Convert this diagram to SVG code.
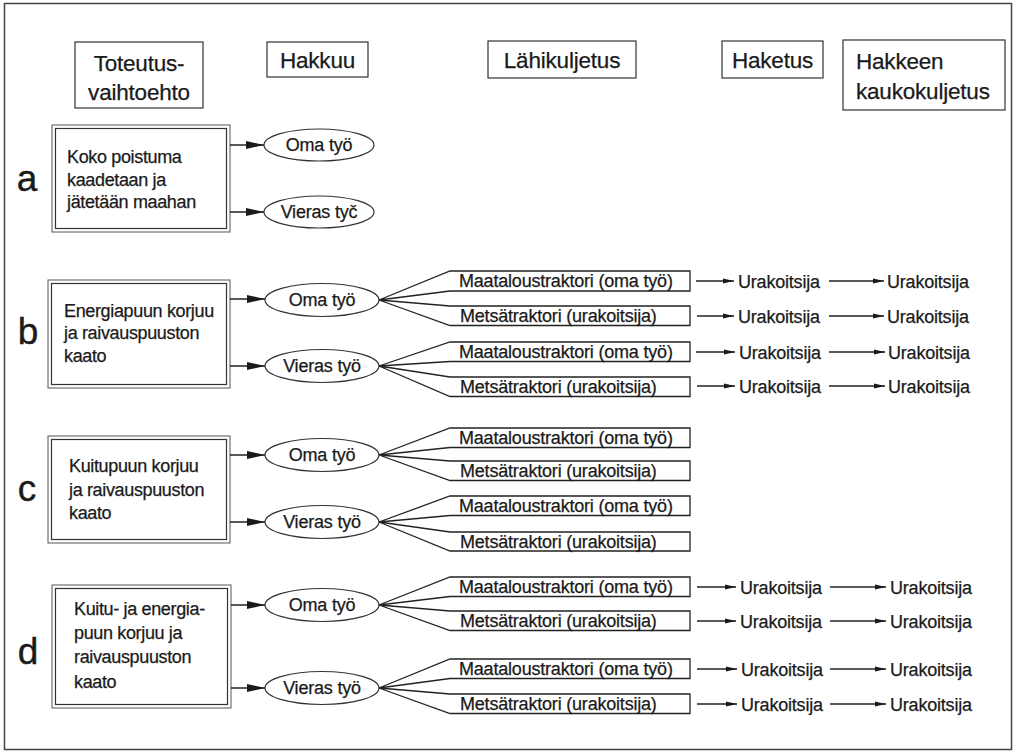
<svg xmlns="http://www.w3.org/2000/svg" width="1016" height="755" viewBox="0 0 1016 755">
<style>
text{font-family:"Liberation Sans",Arial,sans-serif;fill:#1a1a1a;stroke:#1a1a1a;stroke-width:0.25}
.hd{font-size:22.5px;letter-spacing:-0.2px}
.bx{font-size:18px;letter-spacing:-0.35px}
.el{font-size:18px;text-anchor:middle;letter-spacing:-0.2px}
.fb{font-size:18px;letter-spacing:-0.2px}
.ur{font-size:18px;letter-spacing:-0.2px}
.lt{font-size:37px;text-anchor:middle;stroke-width:0.4}
.box{fill:#fff;stroke:#333;stroke-width:1.2}
.dbl{fill:none;stroke:#555;stroke-width:1}
.ell{fill:#fff;stroke:#333;stroke-width:1.2}
.fan{fill:#fff;stroke:#222;stroke-width:1.3}
.con{stroke:#222;stroke-width:1.3;fill:none}
</style>
<defs>
<marker id="big" markerUnits="userSpaceOnUse" viewBox="0 0 18 8" refX="18" refY="4" markerWidth="18" markerHeight="8" orient="auto"><path d="M0,0 L18,4 L0,8 Z" fill="#1a1a1a"/></marker>
<marker id="sm" markerUnits="userSpaceOnUse" viewBox="0 0 11 6" refX="11" refY="3" markerWidth="11" markerHeight="6" orient="auto"><path d="M0,0.5 L11,3 L0,5.5 Z" fill="#1a1a1a"/></marker>
</defs>
<rect x="0" y="0" width="1016" height="755" fill="#fff"/>
<rect x="4.5" y="3.5" width="1007" height="746" fill="none" stroke="#444" stroke-width="1.5"/>

<!-- headers -->
<g id="h-toteutus"><rect class="box" x="75" y="42" width="128" height="66"/><text class="hd" x="139" y="71" text-anchor="middle">Toteutus-</text><text class="hd" x="139" y="100" text-anchor="middle">vaihtoehto</text></g>
<g id="h-hakkuu"><rect class="box" x="267" y="42" width="101" height="35"/><text class="hd" x="317.5" y="67.5" text-anchor="middle">Hakkuu</text></g>
<g id="h-lahi"><rect class="box" x="488" y="41" width="148" height="37"/><text class="hd" x="562" y="67.5" text-anchor="middle">Lähikuljetus</text></g>
<g id="h-haketus"><rect class="box" x="722" y="41" width="101" height="37"/><text class="hd" x="772.5" y="67.5" text-anchor="middle">Haketus</text></g>
<g id="h-kauko"><rect class="box" x="843" y="40" width="162" height="70"/><text class="hd" x="856" y="69">Hakkeen</text><text class="hd" x="856" y="99">kaukokuljetus</text></g>

<!-- letters -->
<g id="lbl-a"><text class="lt" x="27" y="191">a</text></g>
<g id="lbl-b"><text class="lt" x="28" y="344">b</text></g>
<g id="lbl-c"><text class="lt" x="27" y="501">c</text></g>
<g id="lbl-d"><text class="lt" x="28" y="664">d</text></g>

<!-- option boxes -->
<g id="opt-a"><rect class="dbl" x="52" y="125" width="178" height="107"/><rect class="box" x="55.5" y="128.5" width="171" height="100"/>
<text class="bx" x="67" y="163">Koko poistuma</text><text class="bx" x="67" y="186">kaadetaan ja</text><text class="bx" x="67" y="208">jätetään maahan</text></g>
<g id="opt-b"><rect class="dbl" x="48" y="280" width="182" height="108"/><rect class="box" x="51.5" y="283.5" width="175" height="101"/>
<text class="bx" x="64" y="317">Energiapuun korjuu</text><text class="bx" x="64" y="339">ja raivauspuuston</text><text class="bx" x="64" y="362">kaato</text></g>
<g id="opt-c"><rect class="dbl" x="48" y="436" width="182" height="107"/><rect class="box" x="51.5" y="439.5" width="175" height="100"/>
<text class="bx" x="69" y="472">Kuitupuun korjuu</text><text class="bx" x="69" y="496">ja raivauspuuston</text><text class="bx" x="69" y="519">kaato</text></g>
<g id="opt-d"><rect class="dbl" x="52" y="585" width="179" height="123"/><rect class="box" x="55.5" y="588.5" width="172" height="116"/>
<text class="bx" x="74" y="615">Kuitu- ja energia-</text><text class="bx" x="74" y="639">puun korjuu ja</text><text class="bx" x="74" y="663">raivauspuuston</text><text class="bx" x="74" y="688">kaato</text></g>

<!-- ellipses -->
<g id="a-oma"><ellipse class="ell" cx="319" cy="145" rx="55" ry="16"/><text class="el" x="319" y="151">Oma työ</text></g>
<g id="a-vieras"><ellipse class="ell" cx="319" cy="212" rx="55" ry="16"/><text class="el" x="319" y="218">Vieras tyč</text></g>
<g id="b-oma"><ellipse class="ell" cx="322" cy="300" rx="57" ry="16.5"/><text class="el" x="322" y="306">Oma työ</text></g>
<g id="b-vieras"><ellipse class="ell" cx="322" cy="366" rx="57" ry="16.5"/><text class="el" x="322" y="372">Vieras työ</text></g>
<g id="c-oma"><ellipse class="ell" cx="322" cy="455" rx="57" ry="16.5"/><text class="el" x="322" y="461">Oma työ</text></g>
<g id="c-vieras"><ellipse class="ell" cx="322" cy="522" rx="57" ry="16.5"/><text class="el" x="322" y="528">Vieras työ</text></g>
<g id="d-oma"><ellipse class="ell" cx="322" cy="605" rx="57" ry="16.5"/><text class="el" x="322" y="611">Oma työ</text></g>
<g id="d-vieras"><ellipse class="ell" cx="322" cy="688" rx="57" ry="16.5"/><text class="el" x="322" y="694">Vieras työ</text></g>

<!-- fan boxes (lähikuljetus) -->
<g id="b-oma-maa"><path class="fan" d="M379,300 L450,271 L690,271 L690,291 L450,291 Z"/><text class="fb" x="459" y="287">Maataloustraktori (oma työ)</text></g>
<g id="b-oma-met"><path class="fan" d="M379,300 L450,306 L690,306 L690,325.5 L450,325.5 Z"/><text class="fb" x="460" y="322">Metsätraktori (urakoitsija)</text></g>
<g id="b-vie-maa"><path class="fan" d="M379,366 L450,342 L690,342 L690,361.5 L450,361.5 Z"/><text class="fb" x="459" y="358">Maataloustraktori (oma työ)</text></g>
<g id="b-vie-met"><path class="fan" d="M379,366 L450,377 L690,377 L690,396.5 L450,396.5 Z"/><text class="fb" x="460" y="392.5">Metsätraktori (urakoitsija)</text></g>

<g id="c-oma-maa"><path class="fan" d="M379,455 L450,428 L690,428 L690,447.5 L450,447.5 Z"/><text class="fb" x="459" y="444">Maataloustraktori (oma työ)</text></g>
<g id="c-oma-met"><path class="fan" d="M379,455 L450,461 L690,461 L690,480.5 L450,480.5 Z"/><text class="fb" x="460" y="476.5">Metsätraktori (urakoitsija)</text></g>
<g id="c-vie-maa"><path class="fan" d="M379,522 L450,496 L690,496 L690,515.5 L450,515.5 Z"/><text class="fb" x="459" y="512">Maataloustraktori (oma työ)</text></g>
<g id="c-vie-met"><path class="fan" d="M379,522 L450,532 L690,532 L690,551 L450,551 Z"/><text class="fb" x="460" y="547.5">Metsätraktori (urakoitsija)</text></g>

<g id="d-oma-maa"><path class="fan" d="M379,605 L450,577 L690,577 L690,596.5 L450,596.5 Z"/><text class="fb" x="459" y="593">Maataloustraktori (oma työ)</text></g>
<g id="d-oma-met"><path class="fan" d="M379,605 L450,611 L690,611 L690,630.5 L450,630.5 Z"/><text class="fb" x="460" y="627">Metsätraktori (urakoitsija)</text></g>
<g id="d-vie-maa"><path class="fan" d="M379,688 L450,659 L690,659 L690,678.5 L450,678.5 Z"/><text class="fb" x="459" y="675">Maataloustraktori (oma työ)</text></g>
<g id="d-vie-met"><path class="fan" d="M379,688 L450,694 L690,694 L690,713.5 L450,713.5 Z"/><text class="fb" x="460" y="710">Metsätraktori (urakoitsija)</text></g>

<!-- urakoitsija nodes -->
<g id="ur-haketus">
<text class="ur" x="738" y="287.5">Urakoitsija</text>
<text class="ur" x="738" y="322.5">Urakoitsija</text>
<text class="ur" x="739" y="358.5">Urakoitsija</text>
<text class="ur" x="739" y="392.5">Urakoitsija</text>
<text class="ur" x="740" y="593.5">Urakoitsija</text>
<text class="ur" x="740" y="627.5">Urakoitsija</text>
<text class="ur" x="741" y="675.5">Urakoitsija</text>
<text class="ur" x="741" y="710.5">Urakoitsija</text>
</g>
<g id="ur-kauko">
<text class="ur" x="887" y="287.5">Urakoitsija</text>
<text class="ur" x="887" y="322.5">Urakoitsija</text>
<text class="ur" x="888" y="358.5">Urakoitsija</text>
<text class="ur" x="888" y="392.5">Urakoitsija</text>
<text class="ur" x="890" y="593.5">Urakoitsija</text>
<text class="ur" x="890" y="627.5">Urakoitsija</text>
<text class="ur" x="890" y="675.5">Urakoitsija</text>
<text class="ur" x="890" y="710.5">Urakoitsija</text>
</g>

<!-- connectors -->
<g id="connectors" class="con">
<path d="M230,145 H264" marker-end="url(#big)"/>
<path d="M230,212 H264" marker-end="url(#big)"/>
<path d="M230,299 H265" marker-end="url(#big)"/>
<path d="M230,366 H265" marker-end="url(#big)"/>
<path d="M230,455 H265" marker-end="url(#big)"/>
<path d="M230,522 H265" marker-end="url(#big)"/>
<path d="M231,605 H265" marker-end="url(#big)"/>
<path d="M231,688 H265" marker-end="url(#big)"/>

<path d="M696,281 H734" marker-end="url(#sm)"/>
<path d="M697,316 H734" marker-end="url(#sm)"/>
<path d="M696,352 H735" marker-end="url(#sm)"/>
<path d="M697,386 H735" marker-end="url(#sm)"/>
<path d="M697,587 H736" marker-end="url(#sm)"/>
<path d="M697,621 H736" marker-end="url(#sm)"/>
<path d="M697,669 H737" marker-end="url(#sm)"/>
<path d="M697,704 H737" marker-end="url(#sm)"/>

<path d="M829,281 H884" marker-end="url(#sm)"/>
<path d="M829,316 H884" marker-end="url(#sm)"/>
<path d="M829,352 H885" marker-end="url(#sm)"/>
<path d="M829,386 H885" marker-end="url(#sm)"/>
<path d="M830,587 H886" marker-end="url(#sm)"/>
<path d="M830,621 H886" marker-end="url(#sm)"/>
<path d="M830,669 H886" marker-end="url(#sm)"/>
<path d="M830,704 H886" marker-end="url(#sm)"/>
</g>
</svg>
